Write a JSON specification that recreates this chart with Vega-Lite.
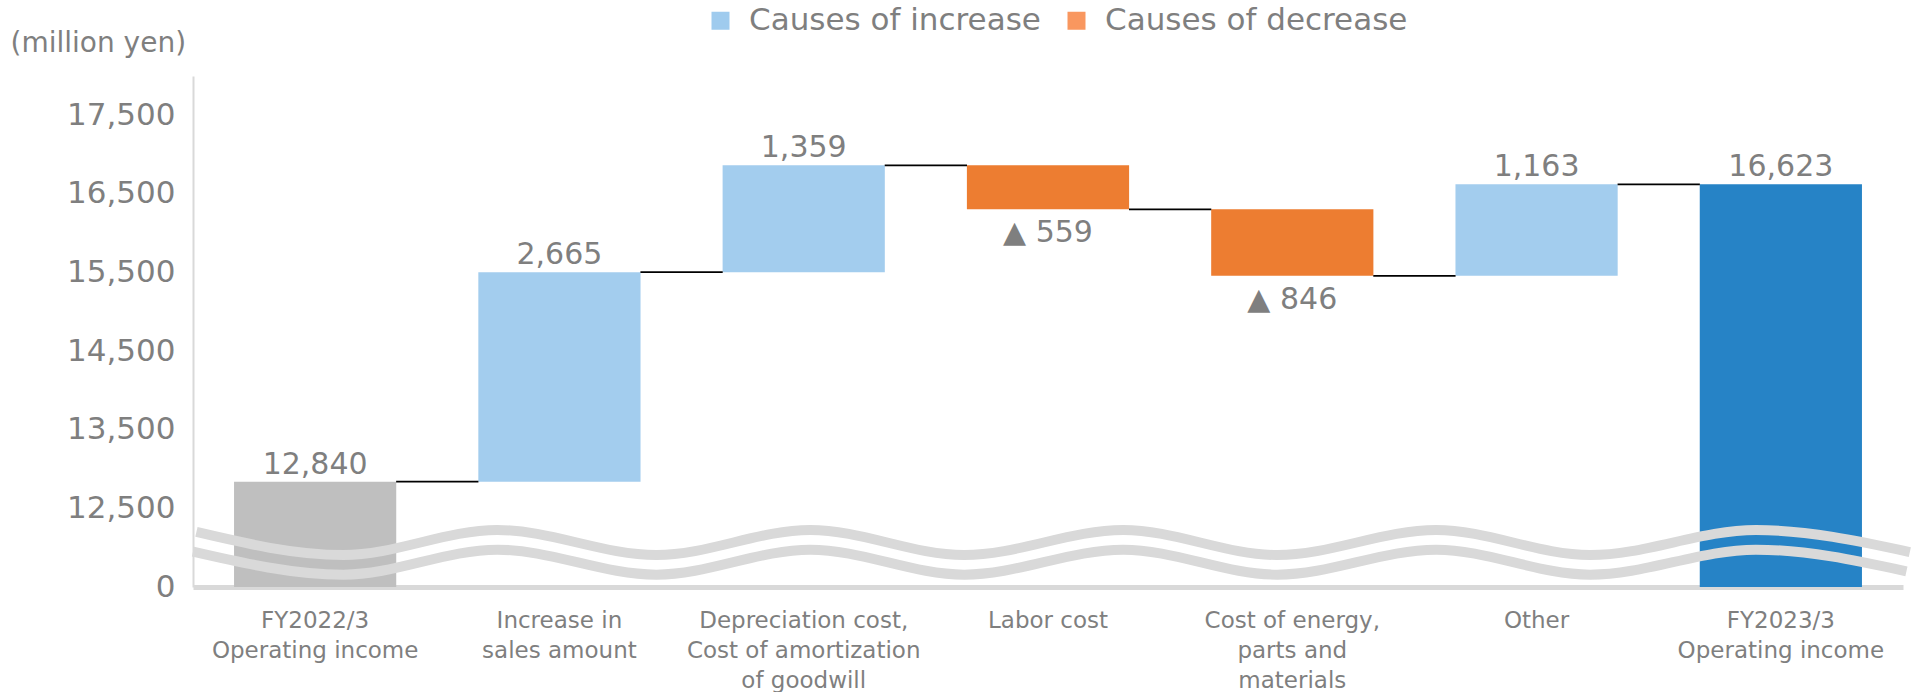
{
  "$schema": "https://vega.github.io/schema/vega-lite/v6.json",
  "width": 1710,
  "height": 511,
  "autosize": {"type": "none"},
  "padding": {"left": 193, "top": 76, "right": 22, "bottom": 105},
  "background": "white",
  "config": {
    "view": {"stroke": null},
    "font": "DejaVu Sans",
    "axis": {"grid": false, "ticks": false, "labelColor": "#7f7f7f", "titleColor": "#7f7f7f", "labelFont": "DejaVu Sans", "titleFont": "DejaVu Sans"}
  },
  "datasets": {
    "steps": [
      {"cat": "FY2022/3|Operating income", "start": 0, "end": 12840, "kind": "base", "label": "12,840"},
      {"cat": "Increase in|sales amount", "start": 12840, "end": 15505, "kind": "increase", "label": "2,665"},
      {"cat": "Depreciation cost,|Cost of amortization|of goodwill", "start": 15505, "end": 16864, "kind": "increase", "label": "1,359"},
      {"cat": "Labor cost", "start": 16864, "end": 16305, "kind": "decrease", "label": "▲ 559"},
      {"cat": "Cost of energy,|parts and|materials", "start": 16305, "end": 15459, "kind": "decrease", "label": "▲ 846"},
      {"cat": "Other", "start": 15459, "end": 16623, "kind": "increase", "label": "1,163"},
      {"cat": "FY2023/3|Operating income", "start": 0, "end": 16623, "kind": "total", "label": "16,623"}
    ],
    "links": [
      {"from": "FY2022/3|Operating income", "to": "Increase in|sales amount", "level": 12840},
      {"from": "Increase in|sales amount", "to": "Depreciation cost,|Cost of amortization|of goodwill", "level": 15505},
      {"from": "Depreciation cost,|Cost of amortization|of goodwill", "to": "Labor cost", "level": 16864},
      {"from": "Labor cost", "to": "Cost of energy,|parts and|materials", "level": 16305},
      {"from": "Cost of energy,|parts and|materials", "to": "Other", "level": 15459},
      {"from": "Other", "to": "FY2023/3|Operating income", "level": 16623}
    ],
    "legend": [
      {"item": "Causes of increase"},
      {"item": "Causes of decrease"}
    ],
    "wave": [
      {"line": "upper", "wx": 0.2, "wy": 12200},
      {"line": "upper", "wx": 8.8, "wy": 11907},
      {"line": "upper", "wx": 17.8, "wy": 12225},
      {"line": "upper", "wx": 27.1, "wy": 11907},
      {"line": "upper", "wx": 36.1, "wy": 12225},
      {"line": "upper", "wx": 45.1, "wy": 11907},
      {"line": "upper", "wx": 54.4, "wy": 12225},
      {"line": "upper", "wx": 63.4, "wy": 11907},
      {"line": "upper", "wx": 72.7, "wy": 12225},
      {"line": "upper", "wx": 81.7, "wy": 11907},
      {"line": "upper", "wx": 91.4, "wy": 12225},
      {"line": "upper", "wx": 100.4, "wy": 11945},
      {"line": "lower", "wx": 0.0, "wy": 11950},
      {"line": "lower", "wx": 8.8, "wy": 11657},
      {"line": "lower", "wx": 17.8, "wy": 11975},
      {"line": "lower", "wx": 27.1, "wy": 11657},
      {"line": "lower", "wx": 36.1, "wy": 11975},
      {"line": "lower", "wx": 45.1, "wy": 11657},
      {"line": "lower", "wx": 54.4, "wy": 11975},
      {"line": "lower", "wx": 63.4, "wy": 11657},
      {"line": "lower", "wx": 72.7, "wy": 11975},
      {"line": "lower", "wx": 81.7, "wy": 11657},
      {"line": "lower", "wx": 91.4, "wy": 11975},
      {"line": "lower", "wx": 100.2, "wy": 11700}
    ]
  },
  "layer": [
    {
      "layer": [
        {
          "data": {"name": "steps"},
          "mark": {"type": "bar"},
          "encoding": {
            "x": {
              "field": "cat", "type": "nominal", "sort": null,
              "scale": {
                "domain": ["FY2022/3|Operating income", "Increase in|sales amount", "Depreciation cost,|Cost of amortization|of goodwill", "Labor cost", "Cost of energy,|parts and|materials", "Other", "FY2023/3|Operating income"],
                "paddingInner": 0.336, "paddingOuter": 0.168
              },
              "axis": {
                "title": null, "labelAngle": 0, "labelExpr": "split(datum.value, '|')",
                "labelFontSize": 23, "labelPadding": 22, "labelLineHeight": 30,
                "domainColor": "#d9d9d9", "domainWidth": 5, "labelLimit": 0
              }
            },
            "y": {
              "field": "start", "type": "quantitative",
              "scale": {"domain": [11500, 18000], "clamp": true, "nice": false, "zero": false},
              "axis": {
                "values": [11500, 12500, 13500, 14500, 15500, 16500, 17500],
                "labelExpr": "datum.value == 11500 ? '0' : format(datum.value, ',')",
                "labelFontSize": 31, "labelPadding": 18,
                "domainColor": "#d9d9d9", "domainWidth": 2,
                "title": "(million yen)", "titleAngle": 0, "titleX": -183, "titleY": -25,
                "titleAlign": "left", "titleBaseline": "alphabetic", "titleFontSize": 28, "titleFontWeight": "normal"
              }
            },
            "y2": {"field": "end"},
            "color": {
              "field": "kind", "type": "nominal",
              "scale": {"domain": ["base", "increase", "decrease", "total"], "range": ["#bfbfbf", "#a3cdee", "#ed7d31", "#2683c6"]},
              "legend": null
            }
          }
        },
        {
          "data": {"name": "steps"},
          "transform": [{"filter": "datum.kind != 'decrease'"}],
          "mark": {"type": "text", "baseline": "alphabetic", "dy": -8, "fontSize": 30, "color": "#7f7f7f"},
          "encoding": {
            "x": {"field": "cat", "type": "nominal"},
            "y": {"field": "end", "type": "quantitative"},
            "text": {"field": "label"}
          }
        },
        {
          "data": {"name": "steps"},
          "transform": [{"filter": "datum.kind == 'decrease'"}],
          "mark": {"type": "text", "baseline": "alphabetic", "dy": 33, "fontSize": 30, "color": "#7f7f7f"},
          "encoding": {
            "x": {"field": "cat", "type": "nominal"},
            "y": {"field": "end", "type": "quantitative"},
            "text": {"field": "label"}
          }
        },
        {
          "data": {"name": "links"},
          "mark": {"type": "rule", "color": "#000000", "strokeWidth": 1.75, "xOffset": 81, "x2Offset": -81},
          "encoding": {
            "x": {"field": "from", "type": "nominal"},
            "x2": {"field": "to"},
            "y": {"field": "level", "type": "quantitative"}
          }
        },
        {
          "data": {"name": "legend"},
          "mark": {"type": "square", "opacity": 0},
          "encoding": {
            "fill": {
              "field": "item", "type": "nominal",
              "scale": {"domain": ["Causes of increase", "Causes of decrease"], "range": ["#9fcbee", "#f9975f"]},
              "legend": {
                "orient": "none", "legendX": 512, "legendY": -71, "direction": "horizontal",
                "title": null, "symbolType": "square", "symbolSize": 324, "symbolOpacity": 1,
                "symbolStrokeWidth": 0, "labelFontSize": 31, "labelColor": "#7f7f7f",
                "labelFont": "DejaVu Sans", "columnPadding": 20, "labelOffset": 13, "labelLimit": 0
              }
            }
          }
        }
      ]
    },
    {
      "data": {"name": "wave"},
      "mark": {"type": "line", "interpolate": "monotone", "color": "#d9d9d9", "strokeWidth": 10},
      "encoding": {
        "x": {"field": "wx", "type": "quantitative", "scale": {"domain": [0, 100]}, "axis": null},
        "y": {
          "field": "wy", "type": "quantitative",
          "scale": {"domain": [11500, 18000], "clamp": true, "nice": false, "zero": false},
          "axis": {
            "values": [11500, 12500, 13500, 14500, 15500, 16500, 17500],
            "labelExpr": "datum.value == 11500 ? '0' : format(datum.value, ',')",
            "labelFontSize": 31, "labelPadding": 18,
            "domainColor": "#d9d9d9", "domainWidth": 2,
            "title": "(million yen)", "titleAngle": 0, "titleX": -183, "titleY": -25,
            "titleAlign": "left", "titleBaseline": "alphabetic", "titleFontSize": 28, "titleFontWeight": "normal"
          }
        },
        "detail": {"field": "line"}
      }
    }
  ],
  "resolve": {"scale": {"x": "independent"}}
}
